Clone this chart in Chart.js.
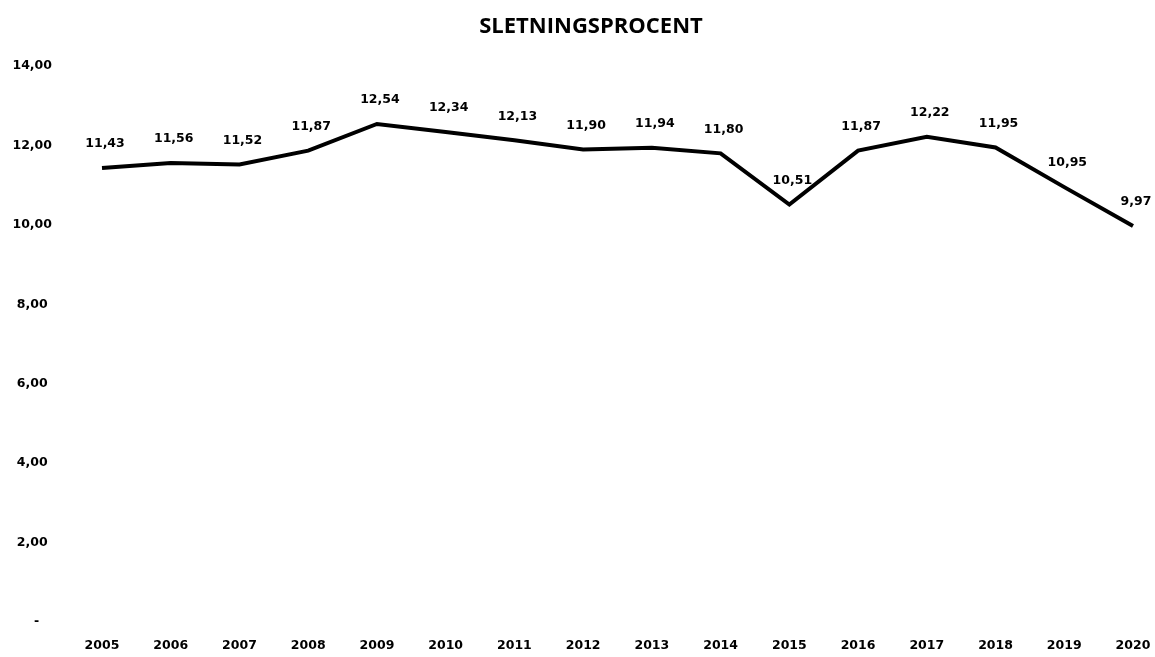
<!DOCTYPE html>
<html>
<head>
<meta charset="utf-8">
<script src="https://cdn.jsdelivr.net/npm/chart.js@4/dist/chart.umd.min.js"></script>
<style>
html,body{margin:0;padding:0;background:#fff;}
#wrap{width:1155px;height:657px;position:relative;}
</style>
</head>
<body>
<div id="wrap"><canvas id="c" width="1155" height="657"></canvas></div>
<script>
const titleText = 'SLETNINGSPROCENT';
const years = ['2005','2006','2007','2008','2009','2010','2011','2012','2013','2014','2015','2016','2017','2018','2019','2020'];
const rates = [11.43, 11.56, 11.52, 11.87, 12.54, 12.34, 12.13, 11.90, 11.94, 11.80, 10.51, 11.87, 12.22, 11.95, 10.95, 9.97];
const yMin = 0, yMax = 14, yStep = 2;

const fmt = v => v.toFixed(2).replace('.', ',');

const titlePlugin = {
  id: 'customTitle',
  afterDraw(chart) {
    const ctx = chart.ctx;
    ctx.save();
    ctx.font = 'bold 22px "Open Sans"';
    ctx.fillStyle = '#000';
    ctx.textAlign = 'center';
    ctx.textBaseline = 'alphabetic';
    ctx.fillText(titleText, 591, 33);
    ctx.restore();
  }
};

const labelPlugin = {
  id: 'pointLabels',
  afterDatasetsDraw(chart) {
    const ctx = chart.ctx;
    const meta = chart.getDatasetMeta(0);
    ctx.save();
    ctx.font = 'bold 12.5px "DejaVu Sans"';
    ctx.fillStyle = '#000';
    ctx.textAlign = 'center';
    ctx.textBaseline = 'middle';
    meta.data.forEach((pt, i) => {
      ctx.fillText(fmt(rates[i]), pt.x + 3, pt.y - 24);
    });
    ctx.restore();
  }
};

new Chart(document.getElementById('c'), {
  type: 'line',
  data: {
    labels: years,
    datasets: [{
      data: rates,
      borderColor: '#000',
      borderWidth: 4,
      pointRadius: 0,
      pointHoverRadius: 0,
      tension: 0,
      fill: false
    }]
  },
  options: {
    responsive: false,
    animation: false,
    events: [],
    layout: { padding: { left: 12, right: 22, top: 66, bottom: 0 } },
    plugins: {
      legend: { display: false },
      title: { display: false },
      tooltip: { enabled: false }
    },
    scales: {
      x: {
        offset: false,
        grid: { display: false, drawTicks: false },
        border: { display: false },
        afterFit(scale) { scale.height = 35; scale.paddingLeft = 0; scale.paddingRight = 0; },
        ticks: {
          color: '#000',
          font: { family: 'DejaVu Sans', weight: 'bold', size: 12.5 },
          padding: 16,
          maxRotation: 0,
          autoSkip: false
        }
      },
      y: {
        min: yMin,
        max: yMax,
        grid: { display: false, drawTicks: false },
        border: { display: false },
        afterFit(scale) { scale.width = 90; scale.paddingTop = 0; scale.paddingBottom = 0; },
        ticks: {
          stepSize: yStep,
          color: '#000',
          crossAlign: 'center',
          padding: 50,
          font: { family: 'DejaVu Sans', weight: 'bold', size: 12.5 },
          callback: v => v === 0 ? '  -' : fmt(v)
        }
      }
    }
  },
  plugins: [titlePlugin, labelPlugin]
});
</script>
</body>
</html>
